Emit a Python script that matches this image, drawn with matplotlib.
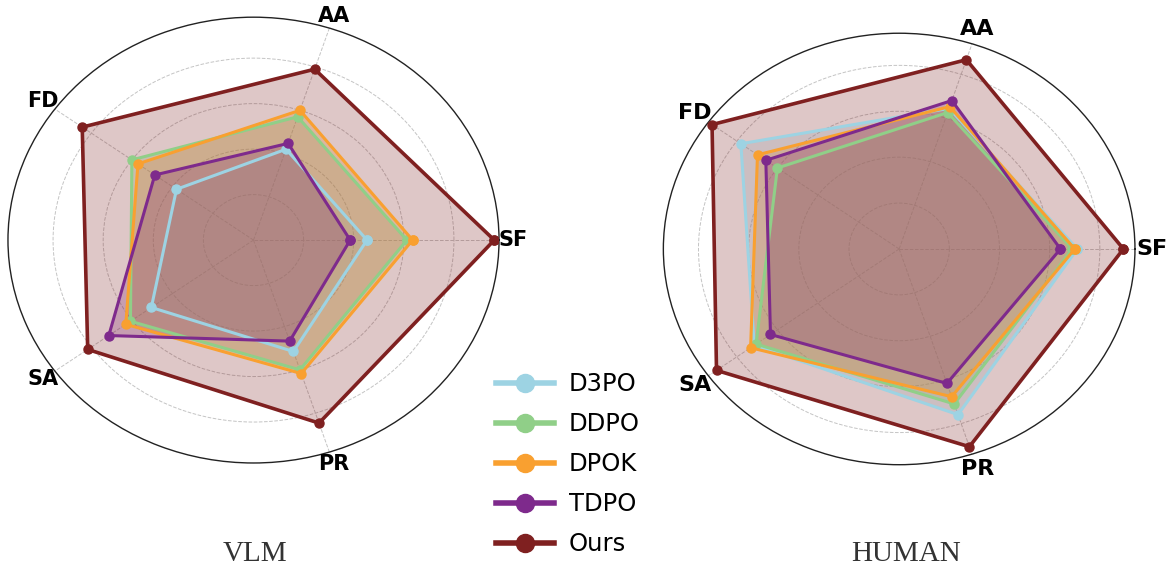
import numpy as np
import matplotlib.pyplot as plt
from matplotlib.lines import Line2D

cats = ["SF", "AA", "FD", "SA", "PR"]
methods = ["D3PO", "DDPO", "DPOK", "TDPO", "Ours"]
colors = ["#9dd3e3", "#90cf88", "#f9a030", "#7e2a8c", "#7f2020"]

# VLM scores (SF, AA, FD, SA, PR)
vlm_d3po = [0.453, 0.42, 0.38, 0.504, 0.515]
vlm_ddpo = [0.612, 0.57, 0.60, 0.607, 0.60]
vlm_dpok = [0.635, 0.60, 0.57, 0.63, 0.617]
vlm_tdpo = [0.386, 0.447, 0.487, 0.714, 0.467]
vlm_ours = [0.961, 0.79, 0.845, 0.818, 0.846]

# HUMAN scores (SF, AA, FD, SA, PR)
hum_d3po = [0.71, 0.644, 0.78, 0.714, 0.759]
hum_ddpo = [0.69, 0.625, 0.60, 0.705, 0.71]
hum_dpok = [0.70, 0.652, 0.698, 0.732, 0.677]
hum_tdpo = [0.643, 0.68, 0.657, 0.634, 0.616]
hum_ours = [0.894, 0.867, 0.922, 0.90, 0.906]

vlm = [vlm_d3po, vlm_ddpo, vlm_dpok, vlm_tdpo, vlm_ours]
hum = [hum_d3po, hum_ddpo, hum_dpok, hum_tdpo, hum_ours]

angles = np.linspace(0, 2 * np.pi, len(cats), endpoint=False)
ang_closed = np.concatenate([angles, angles[:1]])

fig = plt.figure(figsize=(11.72, 5.73), dpi=100)


def radar(rect, data, rmax, lab_r, lab_size, title, title_x):
    ax = fig.add_axes(rect, projection="polar")
    ax.set_aspect("auto")
    for vals, c in zip(data, colors):
        v = np.concatenate([vals, vals[:1]])
        lw = 2.6 if c == colors[-1] else 2.2
        ax.plot(ang_closed, v, color=c, lw=lw, marker="o", ms=6.5, zorder=3)
        ax.fill(ang_closed, v, color=c, alpha=0.25, zorder=2)
    ax.set_ylim(0, rmax)
    ax.set_yticks([0.2, 0.4, 0.6, 0.8])
    ax.set_yticklabels([])
    ax.set_xticks(angles)
    ax.set_xticklabels([])
    ax.grid(True, color="#c4c4c4", ls="--", lw=0.7)
    ax.spines["polar"].set_color("#222222")
    ax.spines["polar"].set_linewidth(1.0)
    for a, name in zip(angles, cats):
        ax.text(a, lab_r * rmax, name, fontsize=lab_size, fontweight="bold",
                ha="center", va="center", clip_on=False)
    fig.text(title_x, 0.034, title, fontsize=21, family="Liberation Serif",
             color="#333333", ha="center", va="center")
    return ax


radar([0.0068, 0.192, 0.419, 0.778], vlm, 0.98, 1.058, 15, "VLM", 255 / 1172)
radar([0.566, 0.189, 0.4024, 0.753], hum, 0.94, 1.07, 16, "HUMAN", 906 / 1172)

handles = [Line2D([0], [0], color=c, lw=4, marker="o", ms=13) for c in colors]
fig.legend(handles, methods, loc="center left", bbox_to_anchor=(0.4125, 0.19),
           frameon=False, fontsize=17.5, handlelength=2.4, handletextpad=0.6,
           labelspacing=0.66, borderpad=0)

plt.savefig("out.png", dpi=100)
